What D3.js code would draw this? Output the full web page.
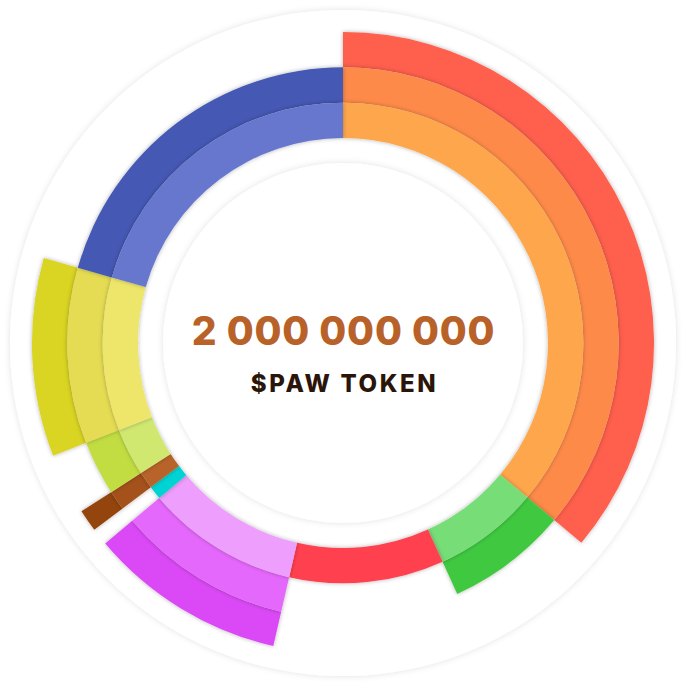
<!DOCTYPE html>
<html>
<head>
<meta charset="utf-8">
<script src="https://cdn.jsdelivr.net/npm/d3@7"></script>
<style>
  html, body { margin: 0; padding: 0; background: #fff; }
  #chart { width: 686px; height: 686px; }
</style>
</head>
<body>
<div id="chart"></div>
<script>
// token allocation, share of supply in %, clockwise from 12 o'clock
const segments = ["seg1", "seg2", "seg3", "seg4", "seg5", "seg6", "seg7", "seg8", "seg9"];
const shares = [36.1, 7.1, 10.4, 10.25, 0.9, 1.15, 3.2, 10.3, 20.6];
const layers = [3, 2, 1, 3, 1, 3, 2, 3, 2];
const totalSupply = "2 000 000 000";
const tokenLabel = "$PAW TOKEN";

// colours per segment, inner ring -> outer ring
const palette = [
    ["#FEA64B", "#FE8A4A", "#FF5E4D"],
    ["#77DD77", "#40C940"],
    ["#FF414F"],
    ["#EE9EFC", "#E567FC", "#DA48F5"],
    ["#02D3D4"],
    ["#B8632B", "#A5511A", "#93450F"],
    ["#D0E76F", "#C2DD43"],
    ["#EEE66A", "#E5DC53", "#DAD421"],
    ["#6677CD", "#4458B4"]
];

const width = 686, height = 686;
const cx = width / 2, cy = height / 2;

const svg = d3.select("#chart")
    .append("svg")
    .attr("width", width)
    .attr("height", height);

const defs = svg.append("defs");

defs.append("filter")
    .attr("id", "ringShadow")
    .attr("x", "-20%").attr("y", "-20%")
    .attr("width", "140%").attr("height", "140%")
    .append("feDropShadow")
    .attr("dx", 0).attr("dy", 0)
    .attr("stdDeviation", 2)
    .attr("flood-color", "#000")
    .attr("flood-opacity", 0.3);

defs.append("filter")
    .attr("id", "softShadow")
    .attr("x", "-20%").attr("y", "-20%")
    .attr("width", "140%").attr("height", "140%")
    .append("feDropShadow")
    .attr("dx", 0).attr("dy", 0)
    .attr("stdDeviation", 3)
    .attr("flood-color", "#000")
    .attr("flood-opacity", 0.12);

const g = svg.append("g").attr("transform", `translate(${cx},${cy})`);

// outer backdrop disc
g.append("circle")
    .attr("r", 333)
    .attr("fill", "#fff")
    .attr("filter", "url(#softShadow)");

const ring = d3.scaleLinear().domain([0, 3]).range([205, 311]);

const pie = d3.pie()
    .sort(null)
    .value(d => d)
    .startAngle(0)
    .endAngle(2 * Math.PI);

const slices = pie(shares).map((p, i) => ({ ...p, idx: i, name: segments[i] }));

const arc = d3.arc();

// draw outermost ring first so inner rings cast shadow outward
for (let level = 2; level >= 0; level--) {
    const pieces = slices.filter(s => layers[s.idx] > level);
    g.append("g")
        .attr("class", "ring-" + level)
        .selectAll("path")
        .data(pieces)
        .enter().append("path")
        .attr("d", d => arc({
            innerRadius: ring(level),
            outerRadius: ring(level + 1),
            startAngle: d.startAngle,
            endAngle: d.endAngle
        }))
        .attr("fill", d => palette[d.idx][level])
        .attr("filter", "url(#ringShadow)");
}

// inner disc holding the labels
g.append("circle")
    .attr("r", 180)
    .attr("fill", "#fff")
    .attr("filter", "url(#softShadow)");

g.append("text")
    .attr("x", 0.5)
    .attr("y", 2)
    .attr("text-anchor", "middle")
    .attr("font-family", "Inter, sans-serif")
    .attr("font-weight", 800)
    .attr("font-size", 39)
    .attr("letter-spacing", 0.8)
    .attr("fill", "#B8622A")
    .text(totalSupply);

g.append("text")
    .attr("x", 1.5)
    .attr("y", 49)
    .attr("text-anchor", "middle")
    .attr("font-family", "Inter, sans-serif")
    .attr("font-weight", 800)
    .attr("font-size", 24)
    .attr("letter-spacing", 2.6)
    .attr("fill", "#2A1508")
    .text(tokenLabel);
</script>
</body>
</html>
